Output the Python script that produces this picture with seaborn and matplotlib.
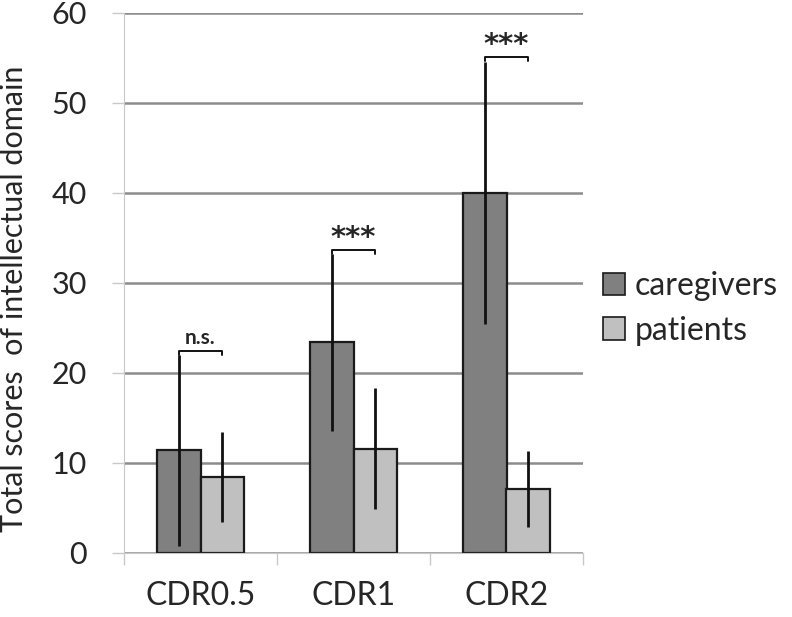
import numpy as np
import pandas as pd
import matplotlib
matplotlib.use("Agg")
import matplotlib.pyplot as plt
import seaborn as sns
from matplotlib.patches import Patch

sns.set_style("white")
plt.rcParams['font.family'] = ['Lato', 'DejaVu Sans']

# values
stages = ["CDR0.5", "CDR1", "CDR2"]
groups = ["caregivers", "patients"]
caregiver_mean = [11.4, 23.4, 40.0]
caregiver_sd = [10.6, 9.8, 14.6]
patient_mean = [8.5, 11.6, 7.1]
patient_sd = [5.0, 6.7, 4.2]
sig_labels = ["n.s.", "***", "***"]
colors = {"caregivers": "#808080", "patients": "#c0c0c0"}

df = pd.DataFrame({
    "stage": stages * 2,
    "group": ["caregivers"] * 3 + ["patients"] * 3,
    "score": caregiver_mean + patient_mean,
    "sd": caregiver_sd + patient_sd,
})

fig = plt.figure(figsize=(7.92, 6.17), dpi=100)
ax = fig.add_axes([124 / 792, 1 - 553 / 617, 459 / 792, 540 / 617])

ax.yaxis.grid(True, color="#8c8c8c", linewidth=1.8)
ax.set_axisbelow(True)

sns.barplot(data=df, x="stage", y="score", hue="group", order=stages,
            hue_order=groups, palette=colors, width=0.575, gap=0,
            edgecolor="#1a1a1a", linewidth=1.6, errorbar=None,
            legend=False, ax=ax)

# error bars at the centre of each bar (patches come in hue order)
bars = ax.patches
centers = {}
for i, g in enumerate(groups):
    sub = df[df["group"] == g]
    for j, st in enumerate(stages):
        b = bars[i * len(stages) + j]
        xc = b.get_x() + b.get_width() / 2
        centers[(g, j)] = xc
        row = sub[sub["stage"] == st].iloc[0]
        ax.errorbar(xc, row["score"], yerr=row["sd"], fmt="none",
                    ecolor="#111111", elinewidth=2.0, capsize=0, zorder=5)

# significance brackets
for j in range(len(stages)):
    x1 = centers[("caregivers", j)]
    x2 = centers[("patients", j)]
    top = caregiver_mean[j] + caregiver_sd[j] + 0.5
    ax.plot([x1, x1, x2, x2], [top - 0.45, top, top, top - 0.45],
            color="#111111", linewidth=1.4, zorder=6)
    if sig_labels[j] == "n.s.":
        ax.text((x1 + x2) / 2, top + 0.3, sig_labels[j], ha="center",
                va="bottom", fontsize=15, fontweight="bold")
    else:
        ax.text((x1 + x2) / 2, top - 0.2, sig_labels[j], ha="center",
                va="bottom", fontsize=21, fontweight="bold",
                family="DejaVu Sans")

ax.set_ylim(0, 60)
ax.set_xlim(-0.5, 2.5)
ax.set_yticks(range(0, 61, 10))
ax.set_xlabel("")
ax.set_ylabel("Total scores  of intellectual domain", fontsize=22)
ax.yaxis.set_label_coords(-0.21, 0.47)

ax.tick_params(axis="y", labelsize=22, length=8.6, color="#c8c8c8", width=1,
               direction="out", left=True, pad=18)
ax.set_xticks([-0.5, 0.5, 1.5, 2.5], minor=True)
ax.tick_params(axis="x", which="major", labelsize=23, length=0, pad=20)
ax.tick_params(axis="x", which="minor", length=8.6, color="#c8c8c8",
               width=1, direction="out", bottom=True)

for s in ["top", "right"]:
    ax.spines[s].set_visible(False)
ax.spines["left"].set_color("#c8c8c8")
ax.spines["bottom"].set_color("#c8c8c8")

handles = [Patch(facecolor=colors[g], edgecolor="#1a1a1a", linewidth=1.2)
           for g in groups]
fig.legend(handles, groups, loc="center left", bbox_to_anchor=(0.725, 0.5),
           frameon=False, fontsize=23, handlelength=0.7, handleheight=0.7,
           handletextpad=0.3, labelspacing=0.45)

fig.savefig("out.png", dpi=100)
